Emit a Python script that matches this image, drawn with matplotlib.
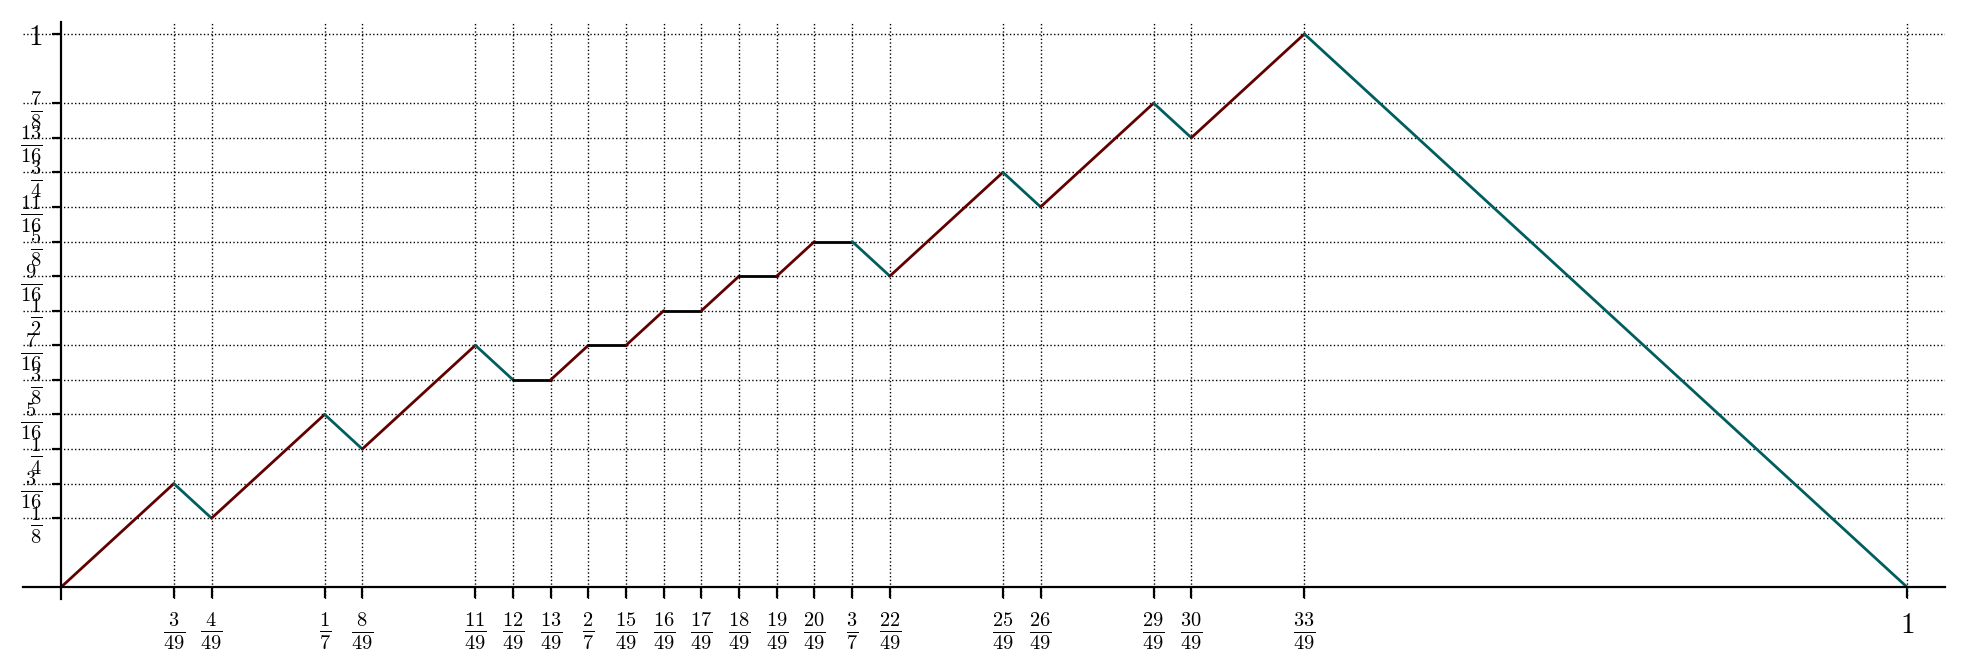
import matplotlib
matplotlib.use('Agg')
import matplotlib.pyplot as plt

# Path vertices: x in 49ths, y in 16ths
x_num = [0, 3, 4, 7, 8, 11, 12, 13, 14, 15, 16, 17, 18, 19, 20, 21, 22, 25, 26, 29, 30, 33, 49]
y_num = [0, 3, 2, 5, 4, 7, 6, 6, 7, 7, 8, 8, 9, 9, 10, 10, 9, 12, 11, 14, 13, 16, 0]
x_den = 49
y_den = 16

x_tick_num = [3, 4, 7, 8, 11, 12, 13, 14, 15, 16, 17, 18, 19, 20, 21, 22, 25, 26, 29, 30, 33, 49]
x_tick_labels = [r'$\frac{3}{49}$', r'$\frac{4}{49}$', r'$\frac{1}{7}$', r'$\frac{8}{49}$',
                 r'$\frac{11}{49}$', r'$\frac{12}{49}$', r'$\frac{13}{49}$', r'$\frac{2}{7}$',
                 r'$\frac{15}{49}$', r'$\frac{16}{49}$', r'$\frac{17}{49}$', r'$\frac{18}{49}$',
                 r'$\frac{19}{49}$', r'$\frac{20}{49}$', r'$\frac{3}{7}$', r'$\frac{22}{49}$',
                 r'$\frac{25}{49}$', r'$\frac{26}{49}$', r'$\frac{29}{49}$', r'$\frac{30}{49}$',
                 r'$\frac{33}{49}$', r'$1$']
y_tick_num = [2, 3, 4, 5, 6, 7, 8, 9, 10, 11, 12, 13, 14, 16]
y_tick_labels = [r'$\frac{1}{8}$', r'$\frac{3}{16}$', r'$\frac{1}{4}$', r'$\frac{5}{16}$',
                 r'$\frac{3}{8}$', r'$\frac{7}{16}$', r'$\frac{1}{2}$', r'$\frac{9}{16}$',
                 r'$\frac{5}{8}$', r'$\frac{11}{16}$', r'$\frac{3}{4}$', r'$\frac{13}{16}$',
                 r'$\frac{7}{8}$', r'$1$']

up_color = '#620000'
down_color = '#005e5e'
flat_color = 'black'

plt.rcParams['mathtext.fontset'] = 'cm'
plt.rcParams['font.size'] = 21

W, H = 1967, 668
fig = plt.figure(figsize=(W / 100, H / 100), dpi=100)
left, right, top, bottom = 22.6, 1945, 21.7, 599
ax = fig.add_axes([left / W, 1 - bottom / H, (right - left) / W, (bottom - top) / H])

xs = [n / x_den for n in x_num]
ys = [n / y_den for n in y_num]
for i in range(len(xs) - 1):
    dy = ys[i + 1] - ys[i]
    c = up_color if dy > 0 else (down_color if dy < 0 else flat_color)
    ax.plot(xs[i:i + 2], ys[i:i + 2], color=c, lw=2.0, solid_capstyle='round', zorder=3)

ax.set_xlim(-0.0207, 1.0204)
ax.set_ylim(-0.021, 1.0222)

ax.set_xticks([n / x_den for n in x_tick_num], x_tick_labels)
ax.set_yticks([n / y_den for n in y_tick_num], y_tick_labels)

ax.grid(True, linestyle=':', color='black', lw=1.0, zorder=1)

for s in ['top', 'right']:
    ax.spines[s].set_visible(False)
ax.spines['left'].set_position(('data', 0))
ax.spines['bottom'].set_position(('data', 0))
ax.spines['left'].set_linewidth(1.6)
ax.spines['bottom'].set_linewidth(1.6)
ax.spines['left'].set_zorder(4)
ax.spines['bottom'].set_zorder(4)

ax.tick_params(axis='x', direction='out', length=8, width=1.6, pad=9)
ax.tick_params(axis='y', direction='out', length=6.5, width=1.6, pad=7)

fig.savefig('out.png', dpi=100)
